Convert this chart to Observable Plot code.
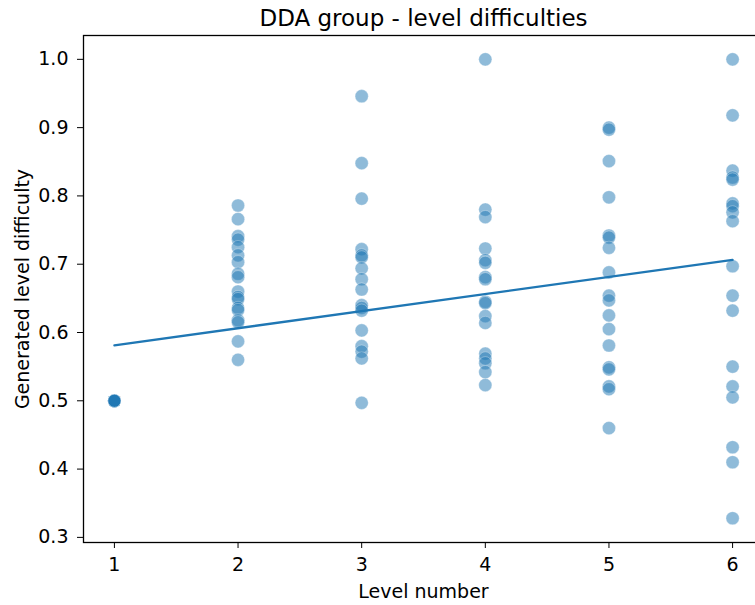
<!DOCTYPE html>
<html>
<head>
<meta charset="utf-8">
<script src="https://cdn.jsdelivr.net/npm/d3@7"></script>
<script src="https://cdn.jsdelivr.net/npm/@observablehq/plot@0.6"></script>
<style>
  html, body { margin: 0; padding: 0; background: #fff; }
  #chart svg { display: block; }
</style>
</head>
<body>
<div id="chart"></div>
<script>
const title = "DDA group - level difficulties";
const xLabel = "Level number";
const yLabel = "Generated level difficulty";
const xTicks = [1, 2, 3, 4, 5, 6];
const yTicks = [0.3, 0.4, 0.5, 0.6, 0.7, 0.8, 0.9, 1.0];

const level1 = [0.5, 0.5, 0.5, 0.5, 0.5, 0.5, 0.5, 0.5, 0.5, 0.5, 0.5, 0.5, 0.5, 0.5, 0.5, 0.5, 0.5, 0.5];
const level2 = [0.786, 0.766, 0.741, 0.736, 0.725, 0.713, 0.703, 0.686, 0.681, 0.660, 0.652, 0.649, 0.636, 0.633, 0.618, 0.615, 0.587, 0.560];
const level3 = [0.946, 0.848, 0.796, 0.722, 0.713, 0.710, 0.694, 0.678, 0.663, 0.640, 0.636, 0.632, 0.603, 0.580, 0.572, 0.562, 0.497];
const level4 = [1.0, 0.780, 0.769, 0.723, 0.706, 0.702, 0.681, 0.678, 0.645, 0.643, 0.624, 0.614, 0.569, 0.562, 0.555, 0.542, 0.523];
const level5 = [0.900, 0.897, 0.851, 0.798, 0.742, 0.739, 0.724, 0.688, 0.654, 0.647, 0.625, 0.605, 0.581, 0.549, 0.546, 0.521, 0.517, 0.460];
const level6 = [1.0, 0.918, 0.837, 0.827, 0.824, 0.789, 0.785, 0.776, 0.763, 0.697, 0.654, 0.632, 0.550, 0.521, 0.505, 0.432, 0.410, 0.328];

const levels = [level1, level2, level3, level4, level5, level6];
const data = levels.flatMap((vals, i) => vals.map(v => ({level: i + 1, difficulty: v})));

const color = "#1f77b4";
const font = "DejaVu Sans, sans-serif";

const chart = Plot.plot({
  width: 755,
  height: 605,
  marginLeft: 83,
  marginRight: -8,
  marginTop: 35,
  marginBottom: 63,
  style: {fontFamily: font, fontSize: "19px", color: "#000", background: "#fff", overflow: "hidden"},
  x: {domain: [0.75, 6.25], ticks: xTicks, tickFormat: d3.format("d"), tickSize: 6, tickPadding: 9, label: null},
  y: {domain: [0.2925, 1.0349], ticks: yTicks, tickFormat: d3.format(".1f"), tickSize: 6, tickPadding: 9, label: null},
  marks: [
    Plot.frame({stroke: "#000", strokeWidth: 1.3}),
    Plot.dot(data, {x: "level", y: "difficulty", r: 6.6, fill: color, fillOpacity: 0.5, stroke: "white", strokeWidth: 0.6, strokeOpacity: 0.5}),
    Plot.linearRegressionY(data, {x: "level", y: "difficulty", stroke: color, strokeWidth: 2.3, ci: 0}),
    Plot.text([title], {x: 3.5, frameAnchor: "top", lineAnchor: "middle", dy: -16.5, fontSize: 23, fill: "#000", fontFamily: font}),
    Plot.text([xLabel], {x: 3.5, frameAnchor: "bottom", lineAnchor: "middle", dy: 49, fontSize: 19, fill: "#000", fontFamily: font}),
    Plot.text([yLabel], {y: 0.6637, frameAnchor: "left", textAnchor: "middle", lineAnchor: "middle", dx: -61, rotate: -90, fontSize: 19, fill: "#000", fontFamily: font})
  ]
});
document.getElementById("chart").appendChild(chart);
</script>
</body>
</html>
